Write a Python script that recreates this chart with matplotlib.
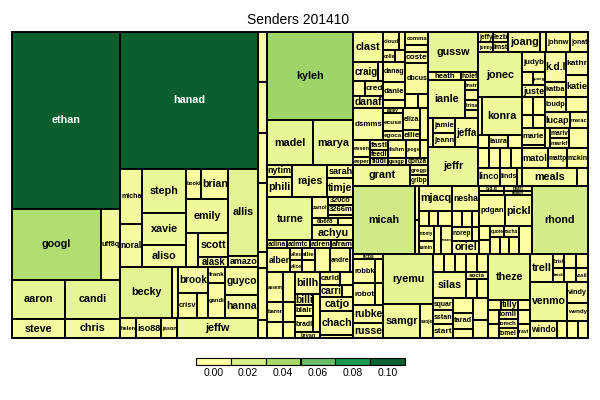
import matplotlib
matplotlib.use("Agg")
import matplotlib.pyplot as plt
from matplotlib.patches import Rectangle
from matplotlib.colors import LinearSegmentedColormap
from matplotlib.textpath import TextPath
from matplotlib.font_manager import FontProperties

# relative message volume per sender, "" = unlabelled cell
a_names = ["ethan", "googl", "uff8q", "aaron", "steve", "candi", "chris"]
a_sizes = [1912, 632, 135, 208, 99, 218, 106]
a_tree = ("v", [0, ("h", [1, 2]), ("h", [("v", [3, 4]), ("v", [5, 6])])])

b_names = ["hanad", "micha", "noral", "steph", "xavie", "aliso", "bookl", "brian",
           "emily", "", "scott", "alask", "allis", "amazo", "becky", "", "brook",
           "crisv", "", "frank", "gandi", "guyco", "hanna", "helen", "iso88",
           "jason", "jeffw"]
b_sizes = [1891, 121, 95, 194, 141, 97, 45, 81, 143, 41, 72, 30, 261, 33, 265, 31,
           78, 48, 28, 27, 60, 92, 76, 32, 50, 32, 162]
b_tree = ("v", [0,
                ("h", [("v", [1, 2]), ("v", [3, 4, 5]),
                       ("v", [("h", [6, 7]), 8, ("h", [9, ("v", [10, 11])])]),
                       ("v", [12, 13])]),
                ("h", [14, 15, ("v", [16, ("h", [17, 18])]), ("v", [19, 20]), ("v", [21, 22])]),
                ("h", [23, 24, 25, 26])])

t_names = ["", "", "", "", "", "", ""]
t_sizes = [45, 46, 45, 62, 14, 47, 16]
t_tree = ("v", [0, 1, 2, 3, 4, 5, 6])

c_names = ["kyleh", "madel", "marya", "nytim", "phili", "rajes", "sarah", "timje",
           "turne", "zanol", "320co", "3266m", "", "6b6f8", "", "achyu",
           "adina", "admtc", "adren", "afram",
           "alber", "alles", "alice", "allie", "", "", "andre", "",
           "assem", "barnr", "", "", "", "",
           "billh", "billi", "blair", "bradl", "bryan", "",
           "carld", "", "carri", "", "catjo", "chach", ""]
c_sizes = [757, 207, 180, 30, 50, 112, 34, 49,
           194, 33, 20, 26, 9, 17, 10, 62,
           16, 18, 17, 18,
           55, 14, 14, 16, 16, 36, 48, 7,
           48, 32, 26, 36, 24, 19,
           55, 20, 20, 28, 15, 27,
           26, 17, 26, 13, 46, 79, 10]
c_tree = ("v", [0,
                ("h", [1, 2]),
                ("h", [("v", [3, 4]), 5, ("v", [6, 7])]),
                ("h", [8, ("v", [("h", [9, ("v", [10, 11, 12])]), ("h", [13, 14]), 15])]),
                ("h", [16, 17, 18, 19]),
                ("h", [20, ("v", [21, 22]), ("v", [23, 24]), 25, 26, 27]),
                ("h", [("v", [28, 29, 30]), ("v", [31, 32, 33]),
                       ("v", [34, ("h", [("v", [35, 36, 37]), 39]), 38]),
                       ("v", [("h", [40, 41]), ("h", [42, 43]), 44, 45, 46])])])

d_names = ["clast", "craig", "", "", "cred", "danaf",
           "cloud", "", "colle", "", "danag", "danie", "",
           "comma", "", "coste", "dbcus", "", "",
           "dsmms", "ealey", "ecuse", "egoca", "eliza", "ellie", "",
           "essen", "exper", "fastl", "feedl", "fiddl", "fishm", "gsagp", "geogs", "", "gonza",
           "grant", "gregp", "gribp"]
d_sizes = [90, 48, 10, 18, 27, 36,
           29, 11, 14, 12, 44, 40, 18,
           30, 16, 25, 71, 17, 15,
           96, 10, 36, 18, 37, 17, 26,
           29, 14, 18, 14, 13, 31, 12, 27, 14, 16,
           114, 18, 18]
d_tree = ("v", [("h", [("v", [0, ("h", [1, 2]), ("h", [3, 4]), 5]),
                       ("v", [("h", [6, 7]), ("h", [8, 9]), 10, 11, 12]),
                       ("v", [13, 14, 15, 16, ("h", [17, 18])])]),
                ("h", [19, ("v", [20, 21, 22]), ("v", [23, 24]), 25]),
                ("h", [("v", [26, 27]), ("v", [28, 29, 30]), ("v", [31, 32]),
                       ("v", [("h", [33, 34]), 35])]),
                ("h", [36, ("v", [37, 38])])])

e_names = ["gussw", "heath", "holef", "ianle", "instr", "", "brina", "",
           "", "jamie", "jeann", "jeffa", "jeffr"]
e_sizes = [200, 26, 14, 141, 13, 13, 13, 10, 15, 33, 31, 67, 190]
e_tree = ("v", [0, ("h", [1, 2]), ("h", [3, ("v", [4, 5, 6, 7])]),
                ("h", [8, ("v", [9, 10]), 11]), 12])

f_names = ["jeffy", "jonny", "lezb", "lmst", "joang", "", "johnw", "jonat",
           "jonec", "", "konra", "", "laura", "", "", "", "", "", "linco", "linds", "",
           "judyb", "", "juneg", "juste", "k.d.l", "katba", "kathr", "katie",
           "", "", "", "", "loudp", "", "lucap", "marac",
           "marie", "", "", "mariv", "markf", "",
           "matol", "mattp", "mckin", "meals", ""]
f_sizes = [15, 15, 15, 15, 64, 12, 48, 36,
           198, 15, 152, 14, 25, 18, 22, 22, 22, 22, 37, 29, 9,
           46, 14, 16, 28, 63, 32, 51, 48,
           20, 22, 14, 16, 32, 33, 40, 29,
           39, 7, 10, 19, 19, 38,
           52, 38, 42, 94, 19]
f_tree = ("v", [("h", [("v", [0, 1]), ("v", [2, 3]), 4, 5, 6, 7]),
                ("h", [("v", [8, ("h", [9, 10]), ("h", [11, 12, 13]),
                              ("h", [14, 15, 16, 17]), ("h", [18, 19, 20])]),
                       ("v", [("h", [("v", [21, ("h", [22, 23]), 24]), ("v", [25, 26]), ("v", [27, 28])]),
                              ("h", [("v", [("h", [29, 30]), ("h", [31, 32])]),
                                     ("v", [("h", [33, 34]), ("h", [35, 36])])]),
                              ("h", [("v", [37, 38]), 39, ("v", [40, 41]), 42]),
                              ("h", [43, 44, 45]),
                              ("h", [46, 47])])])])

p_names = ["micah", "", ""]
p_sizes = [421, 14, 14]
p_tree = ("h", [0, ("v", [1, 2])])

q_names = ["mjacq", "nesha", "", "", "", "monty", "samin", "", "noran",
           "", "", "", "norep", "", "oriel"]
q_sizes = [85, 70, 15, 15, 21, 21, 20, 19, 32, 15, 15, 12, 28, 11, 36]
q_tree = ("h", [("v", [0, ("h", [2, 3, 4]), ("h", [("v", [5, 6]), 7, 8])]),
                ("v", [1, ("h", [9, 10, 11]), ("h", [12, 13]), 14])])

r_names = ["o.d.g", "patri", "", "ohpbh", "pdgan", "pickl", "", "", "quote", "racha",
           "", "", "", ""]
r_sizes = [13, 14, 10, 11, 80, 86, 15, 15, 15, 15, 16, 16, 16, 36]
r_tree = ("v", [("h", [("v", [0, 2]), ("v", [1, 3])]), ("h", [4, 5]),
                ("h", [("v", [6, 7]), ("v", [("h", [8, 9]), ("h", [10, 11, 12])]), 13])])

s_names = ["rhond"]
s_sizes = [386]
s_tree = 0

u_names = ["ricba", "robbk", "", "robot", "", "rubke", "russe"]
u_sizes = [15, 53, 19, 48, 18, 54, 45]
u_tree = ("v", [0, ("h", [1, 2]), ("h", [3, 4]), 5, 6])

v_names = ["ryemu", "samgr", "sanje"]
v_sizes = [250, 126, 44]
v_tree = ("v", [0, ("h", [1, 2])])

w_names = ["", "", "", "", "", "silas", "socia", "", "", "squar", "sstan", "start",
           "", "tarad", "", "", ""]
w_sizes = [20, 20, 20, 20, 20, 83, 15, 22, 22, 24, 28, 28, 29, 30, 18, 34, 29]
w_tree = ("v", [("h", [0, 1, 2, 3, 4]), ("h", [5, ("v", [6, ("h", [7, 8])])]),
                ("h", [("v", [9, 10, 11]), ("v", [12, 13, 14]), ("v", [15, 16])])])

x_names = ["theze", "", "tilly", "", "", "", "tomli", "tomch", "tomel", "", "travi"]
x_sizes = [189, 13, 18, 13, 14, 14, 17, 17, 19, 17, 17]
x_tree = ("v", [0, ("h", [1, 2, 3]), ("h", [("v", [4, 5]), ("v", [6, 7, 8]), ("v", [9, 10])])])

y_names = ["trell", "brisf", "brisk", "", "", "", "vasil", "venmo", "vindy", "wendy",
           "windo", "", "", ""]
y_sizes = [64, 15, 15, 17, 17, 17, 17, 144, 44, 38, 46, 17, 19, 17]
y_tree = ("v", [("h", [0, ("v", [1, 2]), ("v", [3, 5]), ("v", [4, 6])]),
                ("h", [7, ("v", [8, 9])]), ("h", [10, 11, 12, 13])])

legend_ticks = [0.00, 0.02, 0.04, 0.06, 0.08, 0.10]
palette = ["#FFFFA6", "#D9EF8B", "#A6D96A", "#66BD63", "#1A9850", "#0B5E2E"]


def shift(node, off):
    if isinstance(node, int):
        return node + off
    return (node[0], [shift(k, off) for k in node[1]])


def total(node, sizes):
    if isinstance(node, int):
        return sizes[node]
    return sum(total(k, sizes) for k in node[1])


def place(node, x, y, w, h, sizes, out):
    if isinstance(node, int):
        out.append((node, x, y, w, h))
        return
    direction, kids = node
    tot = total(node, sizes)
    for k in kids:
        f = total(k, sizes) / tot
        if direction == "h":
            place(k, x, y, w * f, h, sizes, out)
            x += w * f
        else:
            place(k, x, y, w, h * f, sizes, out)
            y += h * f


names, sizes, trees = [], [], []
for n, s, t in [(a_names, a_sizes, a_tree), (b_names, b_sizes, b_tree),
                (t_names, t_sizes, t_tree), (c_names, c_sizes, c_tree),
                (d_names, d_sizes, d_tree), (e_names, e_sizes, e_tree),
                (f_names, f_sizes, f_tree), (p_names, p_sizes, p_tree),
                (q_names, q_sizes, q_tree), (r_names, r_sizes, r_tree),
                (s_names, s_sizes, s_tree), (u_names, u_sizes, u_tree),
                (v_names, v_sizes, v_tree), (w_names, w_sizes, w_tree),
                (x_names, x_sizes, x_tree), (y_names, y_sizes, y_tree)]:
    trees.append(shift(t, len(names)))
    names += n
    sizes += s

tA, tB, tT, tC, tD, tE, tF, tP, tQ, tR, tS, tU, tV, tW, tX, tY = trees
layout = ("h", [tA, tB, tT, tC,
                ("v", [("h", [tD, tE, tF]),
                       ("v", [("h", [tP, tQ, tR, tS]),
                              ("h", [tU, tV, tW, tX, tY])])])])

grand = sum(sizes)
cmap = LinearSegmentedColormap.from_list(
    "rdylgn_half", list(zip([v / 0.10 for v in legend_ticks], palette)))

cells = []
place(layout, 0.0, 0.0, 1.0, 1.0, sizes, cells)

fig = plt.figure(figsize=(6, 4), dpi=100)
AX_W, AX_H = 576, 306
ax = fig.add_axes([12 / 600, 62 / 400, AX_W / 600, AX_H / 400])
ax.set_xlim(0, 1)
ax.set_ylim(1, 0)
ax.axis("off")

fp = FontProperties(family="Liberation Sans", weight="bold")
for i, x, y, w, h in cells:
    share = sizes[i] / grand
    ax.add_patch(Rectangle((x, y), w, h, facecolor=cmap(min(share / 0.10, 1.0)),
                           edgecolor="black", linewidth=1.4, clip_on=False))
    name = names[i]
    if not name:
        continue
    tw = TextPath((0, 0), name, size=1, prop=fp).get_extents().width
    px = min(10.8, 0.9 * w * AX_W / tw, 0.95 * h * AX_H)
    if px < 3.0:
        continue
    ax.text(x + w / 2, y + h / 2, name, ha="center", va="center",
            fontsize=px * 0.72, fontproperties=fp,
            color="white" if share > 0.07 else "black")

fig.text(298.5 / 600, 1 - 20 / 400, "Senders 201410", ha="center", va="center",
         fontsize=10, family="Liberation Sans")

lax = fig.add_axes([196 / 600, 35 / 400, 209 / 600, 7 / 400])
lax.set_xlim(0, len(legend_ticks))
lax.set_ylim(0, 1)
lax.axis("off")
for j, v in enumerate(legend_ticks):
    lax.add_patch(Rectangle((j, 0), 1, 1, facecolor=cmap(v / 0.10),
                            edgecolor="black", linewidth=0.8, clip_on=False))
    fig.text((196 + (j + 0.5) * 209 / len(legend_ticks)) / 600, 1 - 373 / 400,
             f"{v:.2f}", ha="center", va="center", fontsize=7.5,
             family="Liberation Sans")

fig.savefig("out.png", dpi=100)
